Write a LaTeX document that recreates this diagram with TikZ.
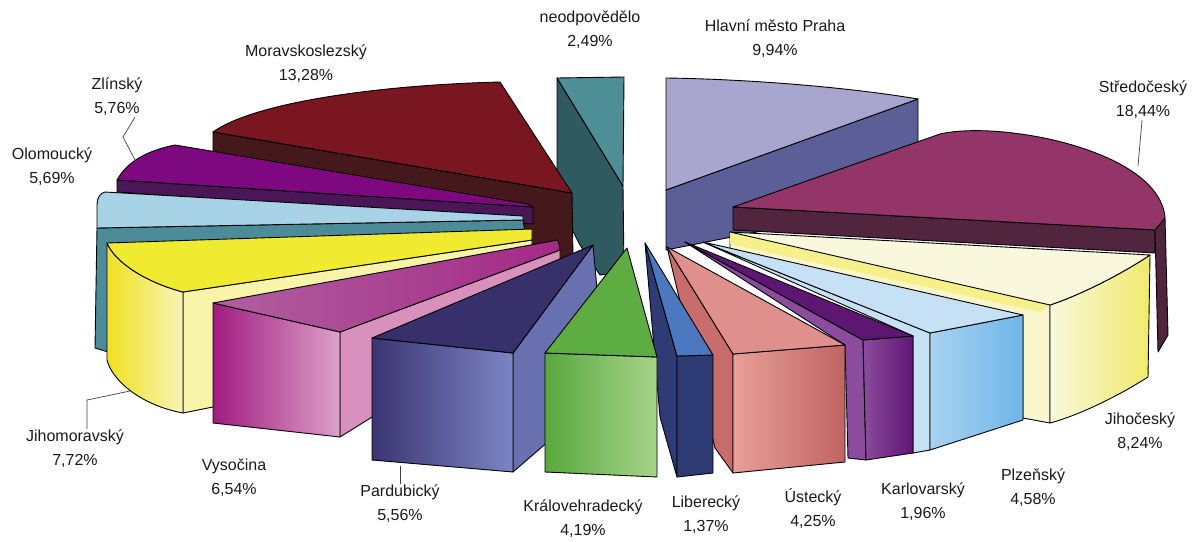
\documentclass[tikz,border=0pt]{standalone}
\usepackage{fontspec}
\setmainfont{Liberation Sans}
\usepackage{tikz}
\usetikzlibrary{calc}
\definecolor{prahaT}{HTML}{A8A5CF}
\definecolor{prahaS}{HTML}{5B5E97}
\definecolor{neodT}{HTML}{4E8E96}
\definecolor{neodS}{HTML}{2F5B60}
\definecolor{moravT}{HTML}{7A1620}
\definecolor{moravS}{HTML}{45191B}
\definecolor{zlinT}{HTML}{7D087F}
\definecolor{zlinS}{HTML}{4A1658}
\definecolor{olomT}{HTML}{A8D2E6}
\definecolor{olomS}{HTML}{4B8C98}
\definecolor{jmT}{HTML}{F0EA30}
\definecolor{jmR}{HTML}{F7F3A8}
\definecolor{jmA}{HTML}{F0E020}
\definecolor{jmB}{HTML}{F8F4B8}
\definecolor{vysT}{HTML}{B0609F}
\definecolor{vysR}{HTML}{D890BC}
\definecolor{vysA}{HTML}{A01C80}
\definecolor{vysB}{HTML}{DDA0C8}
\definecolor{parT}{HTML}{37306B}
\definecolor{parR}{HTML}{6870B0}
\definecolor{parA}{HTML}{3B3572}
\definecolor{parB}{HTML}{7C84C4}
\definecolor{kraT}{HTML}{5DAD43}
\definecolor{kraA}{HTML}{5AA83E}
\definecolor{kraB}{HTML}{A6D48A}
\definecolor{libT}{HTML}{4C78C0}
\definecolor{libS}{HTML}{2F3B74}
\definecolor{ustT}{HTML}{E0908C}
\definecolor{ustR}{HTML}{C86C6C}
\definecolor{ustA}{HTML}{E8A098}
\definecolor{ustB}{HTML}{C06464}
\definecolor{karT}{HTML}{5E1673}
\definecolor{karR}{HTML}{8C4C9E}
\definecolor{plzT}{HTML}{C6E0F6}
\definecolor{plzA}{HTML}{A8D2F0}
\definecolor{plzB}{HTML}{6EB6E8}
\definecolor{jcT}{HTML}{FAF8DC}
\definecolor{jcR}{HTML}{F5F08A}
\definecolor{jcB}{HTML}{F0EA6C}
\definecolor{stT}{HTML}{94356A}
\definecolor{stS}{HTML}{52253F}
\begin{document}
\begin{tikzpicture}[x=1pt,y=-1pt,line join=round,
  edge/.style={draw=black,line width=0.9pt},
  lbl/.style={align=center,font=\fontsize{16}{24}\selectfont,text=black!90,inner sep=1pt},
  lead/.style={draw=black!75,line width=0.7pt}]
\useasboundingbox (0,0) rectangle (1199,541);
% Praha
\coordinate(p1) at (666,78);
\coordinate(p2) at (918,99);
\coordinate(p3) at (666,190);
\coordinate(p4) at (918,200);
\coordinate(p5) at (666,250);
\filldraw[edge,fill=prahaS](p3)--(p2)--(p4)--(p5)--cycle;
\filldraw[edge,fill=prahaT](p1)..controls(740,79)and(840,86)..(p2)--(p3)--cycle;
% neodpovedelo
\coordinate(n1) at (557,78);
\coordinate(n2) at (624,77);
\coordinate(n3) at (623,186);
\filldraw[edge,fill=neodS](n1)--(n3)--(624,272)--(600,275)--(580,245)--(557,200)--cycle;
\filldraw[edge,fill=neodT](n1)--(n2)--(n3)--cycle;
% Moravskoslezsky
\coordinate(m1) at (213,132);
\coordinate(m2) at (500,82);
\coordinate(m3) at (572,193);
\filldraw[edge,fill=moravS](m1)--(m3)--(573,258)--(533,262)--(213,152)--cycle;
\filldraw[edge,fill=moravT](m1)..controls(255,102)and(380,85)..(m2)--(m3)--cycle;
% Stredocesky
\coordinate(s1) at (733,207);
\coordinate(s2) at (1165,218);
\coordinate(s3) at (1155,230);
\coordinate(s4) at (1138,166);
\filldraw[edge,fill=stS](s1)--(s3)--(1155,253)--(733,230)--cycle;
\filldraw[edge,fill=stS](s3)--(s2)--(1168,335)--(1158,352)--cycle;
\filldraw[edge,fill=stT](s1)--(940,134)..controls(1000,120)and(1160,150)..(s2)--(s3)--cycle;
% Zlinsky
\coordinate(z1) at (117,180);
\coordinate(z2) at (175,145);
\coordinate(z3) at (533,207);
\coordinate(z4) at (135,160);
\filldraw[edge,fill=zlinS](z1)--(z3)--(533,224)--(117,192)--cycle;
\filldraw[edge,fill=zlinT](z1)..controls(128,160)and(150,150)..(z2)--(528,204)--(z3)--cycle;
% Olomoucky
\coordinate(o1) at (105,192);
\coordinate(o2) at (523,216);
\coordinate(o3) at (97,228);
\filldraw[edge,fill=olomS](o3)--(523,220)--(525,232)--(108,245)--(108,352)--(95,348)--cycle;
\filldraw[edge,fill=olomT](o1)--(o2)--(523,220)--(o3)--(97,205)..controls(97,198)and(100,193)..(o1)--cycle;
% Jihocesky
\coordinate(jc1) at (730,232);
\coordinate(jc2) at (1150,255);
\coordinate(jc3) at (1050,305);
\filldraw[edge,fill=jcT!80!jcR](jc1)--(jc3)--(1050,423)--(1023,418)--(1023,316)--(730,250)--cycle;
\fill[jcR](jc1)--(jc3)--(1040,312)--(730,244)--cycle;
\draw[edge,left color=jcT,right color=jcB](jc3)..controls(1080,295)and(1120,275)..(jc2)--(1148,377)..controls(1120,395)and(1080,415)..(1050,423)--cycle;
\filldraw[edge,fill=jcT](jc1)--(jc2)..controls(1120,275)and(1080,295)..(jc3)--cycle;
% Jihomoravsky
\coordinate(j1) at (107,243);
\coordinate(j2) at (532,229);
\coordinate(j3) at (532,240);
\coordinate(j4) at (183,292);
\coordinate(j5) at (130,391);
\coordinate(j6) at (87,400);
\filldraw[edge,fill=jmR](j4)--(j3)--(532,258)--(213,407)--(183,413)--cycle;
\draw[edge,left color=jmA,right color=jmB](j1)..controls(115,262)and(145,282)..(j4)--(183,413)..controls(140,405)and(112,380)..(107,360)--cycle;
\filldraw[edge,fill=jmT](j1)--(j2)--(j3)--(j4)..controls(145,282)and(115,262)..(j1)--cycle;
% Plzensky
\coordinate(pl1) at (703,242);
\coordinate(pl2) at (930,333);
\coordinate(pl3) at (1023,315);
\filldraw[edge,fill=plzT](pl1)--(pl2)--(930,450)--(913,453)--(913,336)--cycle;
\draw[edge,left color=plzA,right color=plzB](pl2)--(pl3)--(1023,420)--(930,450)--cycle;
\filldraw[edge,fill=plzT](pl1)--(pl3)--(pl2)--cycle;
% Karlovarsky
\coordinate(c1) at (685,242);
\coordinate(c2) at (863,340);
\coordinate(c3) at (913,336);
\filldraw[edge,fill=karR](c1)--(c2)--(866,460)--(848,458)--(845,345)--cycle;
\draw[edge,left color=karR,right color=karT](c2)--(c3)--(913,453)--(866,460)--cycle;
\filldraw[edge,fill=karT](c1)--(c3)--(c2)--cycle;
% Ustecky
\coordinate(u1) at (667,247);
\coordinate(u2) at (733,354);
\coordinate(u3) at (845,345);
\filldraw[edge,fill=ustR](u1)--(u2)--(733,473)--(715,448)--cycle;
\draw[edge,left color=ustA,right color=ustB](u2)--(u3)--(845,462)--(733,473)--cycle;
\filldraw[edge,fill=ustT](u1)--(u3)--(u2)--cycle;
% Vysocina
\coordinate(v1) at (213,303);
\coordinate(v2) at (558,240);
\coordinate(v3) at (560,250);
\coordinate(v4) at (340,332);
\filldraw[edge,fill=vysR](v4)--(v3)--(560,300)--(340,437)--cycle;
\draw[edge,left color=vysA,right color=vysB](v1)--(v4)--(340,437)--(213,423)--cycle;
\draw[edge,left color=vysT,right color=vysA!80!vysT](v1)--(v2)--(v3)--(v4)--cycle;
% Pardubicky
\coordinate(pd1) at (372,338);
\coordinate(pd2) at (593,245);
\coordinate(pd3) at (513,353);
\coordinate(pd4) at (400,466);
\filldraw[edge,fill=parR](pd3)--(pd2)--(598,300)--(550,440)--(513,472)--cycle;
\draw[edge,left color=parA,right color=parB](pd1)--(pd3)--(513,472)--(372,460)--cycle;
\filldraw[edge,fill=parT](pd1)--(pd2)--(pd3)--cycle;
% Liberecky
\coordinate(l1) at (645,243);
\coordinate(l2) at (677,356);
\coordinate(l3) at (713,355);
\filldraw[edge,fill=libS](l1)--(l2)--(677,477)--(660,417)--cycle;
\filldraw[edge,fill=libS](l2)--(l3)--(713,473)--(677,477)--cycle;
\filldraw[edge,fill=libT](l1)--(l3)--(l2)--cycle;
% Kralovehradecky
\coordinate(k1) at (627,248);
\coordinate(k2) at (545,353);
\coordinate(k3) at (657,357);
\draw[edge,left color=kraA,right color=kraB](k2)--(k3)--(657,477)--(545,472)--cycle;
\filldraw[edge,fill=kraT](k1)--(k2)--(k3)--cycle;
% labels
\node[lbl](lneod) at (590,30) {neodpovědělo\\2,49\%};
\node[lbl](lpraha) at (775,39) {Hlavní město Praha\\9,94\%};
\node[lbl](lmorav) at (306,64) {Moravskoslezský\\13,28\%};
\node[lbl](lzlin) at (117,97) {Zlínský\\5,76\%};
\node[lbl](lolom) at (52,167) {Olomoucký\\5,69\%};
\node[lbl](lstred) at (1143,100) {Středočeský\\18,44\%};
\node[lbl](ljihoc) at (1140,432) {Jihočeský\\8,24\%};
\node[lbl](lplzen) at (1033,488) {Plzeňský\\4,58\%};
\node[lbl](lkarl) at (923,502) {Karlovarský\\1,96\%};
\node[lbl](lust) at (813,509) {Ústecký\\4,25\%};
\node[lbl](llib) at (706,515) {Liberecký\\1,37\%};
\node[lbl](lkral) at (583,519) {Královehradecký\\4,19\%};
\node[lbl](lpard) at (400,504) {Pardubický\\5,56\%};
\node[lbl](lvys) at (234,478) {Vysočina\\6,54\%};
\node[lbl](ljihom) at (75,449) {Jihomoravský\\7,72\%};
\draw[lead](z4|-lzlin.south)--(123,137)--(z4);
\draw[lead](lstred.south-|1142,0)--(s4);
\draw[lead](j5)--(j6)--(j6|-ljihom.north);
\draw[lead](pd4)--(pd4|-lpard.north);
\end{tikzpicture}
\end{document}
